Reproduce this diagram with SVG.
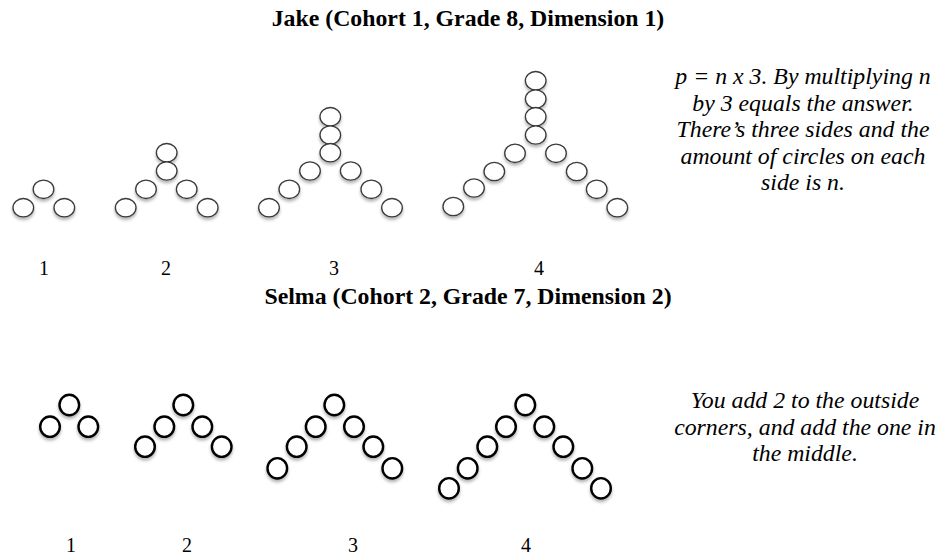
<svg xmlns="http://www.w3.org/2000/svg" width="935" height="557" viewBox="0 0 935 557">
<defs>
<filter id="sh" x="-50%" y="-50%" width="200%" height="220%">
<feDropShadow dx="0" dy="2.5" stdDeviation="1.6" flood-color="#000" flood-opacity="0.3"/>
</filter>
<ellipse id="j" rx="10.3" ry="9.2"/>
<ellipse id="s" rx="9.8" ry="10.2"/>
</defs>
<style>
.title{font-family:"Liberation Serif",serif;font-weight:bold;font-size:23.8px;fill:#000;text-anchor:middle}
.num{font-family:"Liberation Serif",serif;font-size:20px;fill:#000;text-anchor:middle}
.note{font-family:"Liberation Serif",serif;font-style:italic;font-size:23.8px;fill:#000;text-anchor:middle}
.jc use{fill:#fff;stroke:#3a3a3a;stroke-width:1.3}
.sc use{fill:#fff;stroke:#000;stroke-width:2.4}
</style>
<rect width="935" height="557" fill="#fff"/>
<text class="title" x="468" y="26">Jake (Cohort 1, Grade 8, Dimension 1)</text>
<text class="title" x="468" y="304">Selma (Cohort 2, Grade 7, Dimension 2)</text>

<g id="jake-1" class="jc" filter="url(#sh)">
<use href="#j" x="23.3" y="207.7"/><use href="#j" x="43.5" y="189.3"/><use href="#j" x="64.3" y="207.7"/>
</g>
<g id="jake-2" class="jc" filter="url(#sh)">
<use href="#j" x="125.7" y="207.7"/><use href="#j" x="146" y="189.3"/><use href="#j" x="166.7" y="152.7"/><use href="#j" x="166.7" y="171"/><use href="#j" x="186.7" y="189.3"/><use href="#j" x="207.7" y="207.7"/>
</g>
<g id="jake-3" class="jc" filter="url(#sh)">
<use href="#j" x="269" y="207.7"/><use href="#j" x="289.3" y="189.3"/><use href="#j" x="310" y="171"/><use href="#j" x="330.3" y="116.7"/><use href="#j" x="330.3" y="135"/><use href="#j" x="330.3" y="152.7"/><use href="#j" x="350.7" y="171"/><use href="#j" x="371.3" y="189.3"/><use href="#j" x="392" y="207.7"/>
</g>
<g id="jake-4" class="jc" filter="url(#sh)">
<use href="#j" x="453.3" y="206.5"/><use href="#j" x="474" y="188"/><use href="#j" x="494.3" y="171.5"/><use href="#j" x="515" y="153.3"/><use href="#j" x="535.7" y="80.7"/><use href="#j" x="535.7" y="99"/><use href="#j" x="535.7" y="116.7"/><use href="#j" x="535.7" y="135"/><use href="#j" x="556" y="153.3"/><use href="#j" x="576.7" y="171.5"/><use href="#j" x="596.7" y="189.3"/><use href="#j" x="617.3" y="207.7"/>
</g>

<g id="selma-1" class="sc" filter="url(#sh)">
<use href="#s" x="50" y="426.7"/><use href="#s" x="69.3" y="405"/><use href="#s" x="88.3" y="426.7"/>
</g>
<g id="selma-2" class="sc" filter="url(#sh)">
<use href="#s" x="145" y="446.7"/><use href="#s" x="164.3" y="426.7"/><use href="#s" x="183.3" y="405"/><use href="#s" x="202.3" y="426.7"/><use href="#s" x="221.7" y="446.7"/>
</g>
<g id="selma-3" class="sc" filter="url(#sh)">
<use href="#s" x="277.3" y="468.3"/><use href="#s" x="296.7" y="446.7"/><use href="#s" x="315.7" y="426.7"/><use href="#s" x="334.3" y="405"/><use href="#s" x="354" y="426.7"/><use href="#s" x="373.3" y="446.7"/><use href="#s" x="392.3" y="468.3"/>
</g>
<g id="selma-4" class="sc" filter="url(#sh)">
<use href="#s" x="449" y="488.3"/><use href="#s" x="467.7" y="468.3"/><use href="#s" x="487.3" y="446.7"/><use href="#s" x="506" y="426.7"/><use href="#s" x="525.3" y="405"/><use href="#s" x="544.3" y="426.7"/><use href="#s" x="563.3" y="446.7"/><use href="#s" x="582.3" y="468.3"/><use href="#s" x="601" y="488.3"/>
</g>

<g id="jake-labels">
<text class="num" x="44" y="275">1</text><text class="num" x="166" y="275">2</text><text class="num" x="334" y="275">3</text><text class="num" x="539" y="275">4</text>
</g>
<g id="selma-labels">
<text class="num" x="71" y="552">1</text><text class="num" x="187" y="552">2</text><text class="num" x="353" y="552">3</text><text class="num" x="526" y="552">4</text>
</g>

<g id="jake-note">
<text class="note" x="803" y="84">p = n x 3. By multiplying n</text>
<text class="note" x="803" y="110.5">by 3 equals the answer.</text>
<text class="note" x="803" y="137">There’s three sides and the</text>
<text class="note" x="803" y="163.5">amount of circles on each</text>
<text class="note" x="803" y="190">side is n.</text>
</g>
<g id="selma-note">
<text class="note" x="805" y="408">You add 2 to the outside</text>
<text class="note" x="805" y="434.5">corners, and add the one in</text>
<text class="note" x="805" y="461">the middle.</text>
</g>
<g id="connectors"></g>
</svg>
